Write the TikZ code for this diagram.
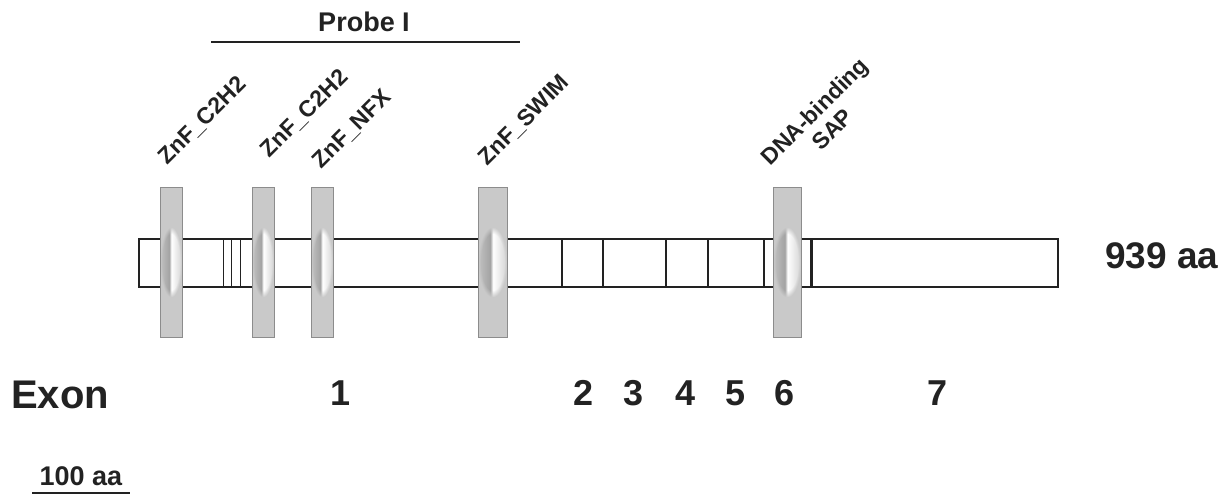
\documentclass[tikz,border=0pt]{standalone}
\usepackage{fontspec}
\setmainfont{Liberation Sans}
\usetikzlibrary{fadings}
\pgfdeclarehorizontalshading{barspot}{100bp}{color(0bp)=(black!24); color(25bp)=(black!24); color(46bp)=(black!36); color(51bp)=(white); color(75bp)=(black!17); color(100bp)=(black!17)}
\definecolor{ink}{HTML}{222222}
\tikzset{
  protbox/.style={draw=ink, line width=1.6pt, fill=white},
  thinsep/.style={draw=ink, line width=0.7pt},
  exsep/.style={draw=ink, line width=1.6pt},
  barbase/.style={fill=black!21, draw=black!45, line width=0.8pt},
  barshade/.style={shading=barspot, path fading=circle with fuzzy edge 20 percent},
  domlabel/.style={font=\bfseries\fontsize{23}{26}\selectfont, text=ink, rotate=45, inner sep=0pt},
  bigtxt/.style={font=\bfseries\fontsize{36}{40}\selectfont, text=ink, inner sep=0pt},
  midtxt/.style={font=\bfseries\fontsize{27}{30}\selectfont, text=ink, inner sep=0pt},
}
\newcommand{\domainbar}[3]{%
  \path[barbase] (#1,187) rectangle (#2,337);
  \shade[barshade] (#1,227) rectangle (#2,297);
  \path[draw=black!45, line width=0.8pt] (#1,187) rectangle (#2,337);
  \coordinate (#3) at ({(#1+#2)/2},187);
}
\begin{document}
\begin{tikzpicture}[x=1pt,y=-1pt]
\useasboundingbox (0,0) rectangle (1231,495);
% probe
\node[midtxt, anchor=base] (probe) at (364,32) {Probe I};
\coordinate (pl) at (211,42);
\coordinate (pr) at (520,42);
\draw[ink, line width=2.4pt] (pl) -- (pr);
% protein box
\path[protbox] (139,239) rectangle (1058,287);
\foreach \x in {223,231.5,240} \draw[thinsep] (\x,239) -- (\x,287);
\foreach \x in {562,603,666,708} \draw[exsep] (\x,239) -- (\x,287);
\draw[ink, line width=1.2pt] (764,239) -- (764,287);
\draw[ink, line width=2.6pt] (811.5,239) -- (811.5,287);
% domain bars
\domainbar{160}{182}{b1}
\domainbar{252}{274}{b2}
\domainbar{311}{333}{b3}
\domainbar{478}{507}{b4}
\domainbar{773}{801}{b5}
% labels
\node[domlabel, anchor=base west] (l1) at (167,166) {ZnF\_C2H2};
\node[domlabel, anchor=base west] (l2) at (269,159) {ZnF\_C2H2};
\node[domlabel, anchor=base west] (l3) at (321,170) {ZnF\_NFX};
\node[domlabel, anchor=base west] (l4) at (487,167) {ZnF\_SWIM};
\node[domlabel, anchor=base] (l5a) at (820,117) {DNA-binding};
\node[domlabel, anchor=base] (l5b) at (838,135) {SAP};
% length
\node[bigtxt, font=\bfseries\fontsize{37}{40}\selectfont, anchor=base west] (len) at (1105,268) {939 aa};
% exons
\node[bigtxt, font=\bfseries\fontsize{40}{44}\selectfont, anchor=base west] (exon) at (11,408) {Exon};
\node[bigtxt, anchor=base] (e1) at (341,405) {1};
\node[bigtxt, anchor=base] (e2) at (584,405) {2};
\node[bigtxt, anchor=base] (e3) at (634,405) {3};
\node[bigtxt, anchor=base] (e4) at (686,405) {4};
\node[bigtxt, anchor=base] (e5) at (736,405) {5};
\node[bigtxt, anchor=base] (e6) at (784,405) {6};
\node[bigtxt, anchor=base] (e7) at (937,405) {7};
% scale bar
\node[font=\bfseries\fontsize{27}{30}\selectfont, text=ink, inner sep=0pt, anchor=base] (sc) at (81,485) {100 aa};
\coordinate (sl) at (32,493);
\coordinate (sr) at (130,493);
\draw[ink, line width=1.5pt] (sl) -- (sr);
\end{tikzpicture}
\end{document}
